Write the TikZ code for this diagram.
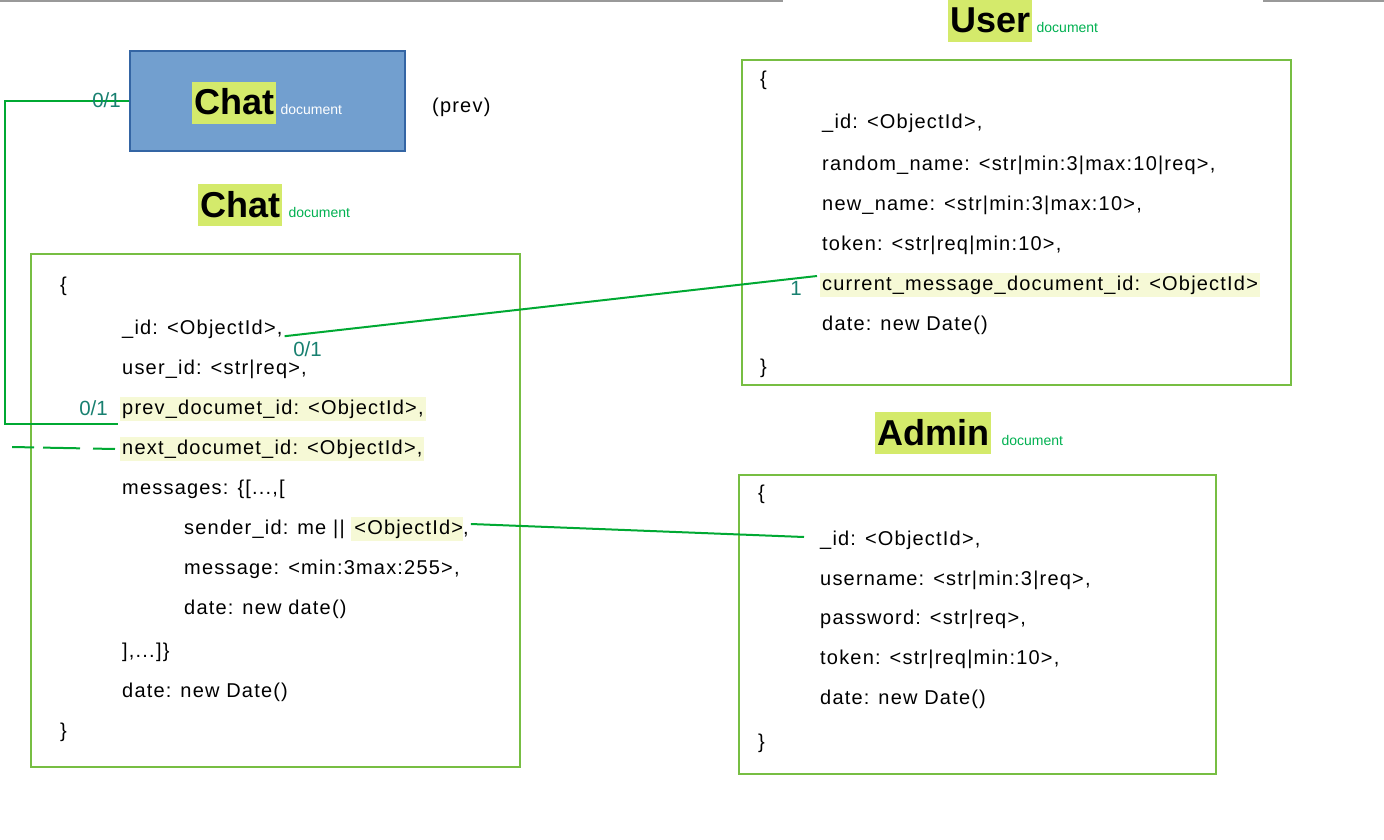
\documentclass[tikz,border=0pt]{standalone}
\usepackage{fontspec}
\setmainfont{Liberation Sans}
\newfontfamily\fieldfont[LetterSpace=6]{Liberation Sans}
\definecolor{boxgreen}{RGB}{119,190,67}
\definecolor{linkgreen}{RGB}{0,169,51}
\definecolor{cardteal}{RGB}{24,128,112}
\definecolor{titlelime}{RGB}{212,234,107}
\definecolor{fieldcream}{RGB}{246,249,214}
\definecolor{docgreen}{RGB}{0,176,80}
\definecolor{chatfill}{RGB}{114,159,207}
\definecolor{chatedge}{RGB}{52,101,164}
\newcommand{\fieldsize}{\fieldfont\fontsize{20}{24}\selectfont}
\tikzset{
  docbox/.style={draw=boxgreen, line width=2pt, inner sep=0pt},
  field/.style={anchor=base west, inner xsep=2pt, inner ysep=2pt,
    text height=15pt, text depth=5pt, font=\fieldsize},
  keyfield/.style={field, fill=fieldcream},
  brace/.style={anchor=west, inner sep=0pt, font=\fieldsize},
  title/.style={anchor=base west, fill=titlelime, inner xsep=2pt, inner ysep=0pt,
    text height=33pt, text depth=9pt, font=\bfseries\fontsize{36}{40}\selectfont},
  doctag/.style={anchor=base west, inner sep=0pt, text=docgreen,
    font=\fontsize{14}{16}\selectfont},
  card/.style={anchor=base east, inner sep=0pt, text=cardteal,
    font=\fontsize{20.5}{24}\selectfont},
  link/.style={draw=linkgreen, line width=2pt},
}
\begin{document}
\begin{tikzpicture}[x=1pt, y=-1pt]
  \useasboundingbox (0,0) rectangle (1384,840);
  \draw[gray!80, line width=2pt] (0,1) -- (783,1) (1263,1) -- (1384,1);

  % previous chat document
  \node[draw=chatedge, fill=chatfill, line width=1.5pt, inner sep=0pt,
    minimum width=275pt, minimum height=100pt] (chatblue) at (267.5,101) {};
  \node[title] (bluetitle) at (192,115) {Chat};
  \node[doctag, text=white] (bluetag) at ([xshift=4pt]bluetitle.base east) {document};
  \node[field] (prevnote) at (430,113) {(prev)};

  % chat document
  \node[title] (chattitle) at (198,217) {Chat};
  \node[doctag] (chattag) at ([xshift=6pt]chattitle.base east) {document};
  \node[docbox, minimum width=489pt, minimum height=513pt] (chatbox) at (275.5,510.5) {};
  \node[brace] (chatopen) at (60,286) {\{};
  \node[field] (chatid) at (120,334) {\_id: <ObjectId>,};
  \node[field] (chatuser) at (120,374) {user\_id: <str|req>,};
  \node[keyfield] (chatprev) at (120,414) {prev\_documet\_id: <ObjectId>,};
  \node[keyfield] (chatnext) at (120,454) {next\_documet\_id: <ObjectId>,};
  \node[field] (chatmsgs) at (120,494) {messages: \{[...,[};
  \node[field] (sender) at (182,534) {sender\_id: me || {\setlength{\fboxsep}{0pt}\colorbox{fieldcream}{\rule[-7pt]{0pt}{24pt}\hspace{3pt}<ObjectId>}},};
  \node[field] (message) at (182,574) {message: <min:3max:255>,};
  \node[field] (msgdate) at (182,614) {date: new date()};
  \node[field] (chatmsgend) at (120,657) {],...]\}};
  \node[field] (chatdate) at (120,697) {date: new Date()};
  \node[brace] (chatclose) at (60,732) {\}};

  % user document
  \node[title] (usertitle) at (948,33) {User};
  \node[doctag] (usertag) at ([xshift=4pt]usertitle.base east) {document};
  \node[docbox, minimum width=549pt, minimum height=325pt] (userbox) at (1016.5,222.5) {};
  \node[brace] (useropen) at (760,80) {\{};
  \node[field] (userid) at (820,129) {\_id: <ObjectId>,};
  \node[field] (userrand) at (820,170) {random\_name: <str|min:3|max:10|req>,};
  \node[field] (usernew) at (820,210) {new\_name: <str|min:3|max:10>,};
  \node[field] (usertoken) at (820,250) {token: <str|req|min:10>,};
  \node[keyfield] (usercur) at (820,290) {current\_message\_document\_id: <ObjectId>};
  \node[field] (userdate) at (820,330) {date: new Date()};
  \node[brace] (userclose) at (760,368) {\}};

  % admin document
  \node[title] (admintitle) at (875,445) {Admin};
  \node[doctag] (admintag) at ([xshift=10pt]admintitle.base east) {document};
  \node[docbox, minimum width=477pt, minimum height=299pt] (adminbox) at (977.5,624.5) {};
  \node[brace] (adminopen) at (758,494) {\{};
  \node[field] (adminid) at (818,545) {\_id: <ObjectId>,};
  \node[field] (adminname) at (818,585) {username: <str|min:3|req>,};
  \node[field] (adminpass) at (818,624) {password: <str|req>,};
  \node[field] (admintoken) at (818,664) {token: <str|req|min:10>,};
  \node[field] (admindate) at (818,704) {date: new Date()};
  \node[brace] (adminclose) at (758,743) {\}};

  % links
  \coordinate (prevend) at ([xshift=-2pt,yshift=-10pt]chatprev.base west);
  \coordinate (nextfree) at (12,447);
  \draw[link] (chatblue.west) -- ++(-124,0) |- (prevend);
  \draw[link, dash pattern=on 22pt off 13pt on 37pt off 9pt] ([xshift=-5pt]chatnext.west) -- (nextfree);
  \draw[link] ([yshift=5pt]chatid.south east) -- ([xshift=-3pt,yshift=9pt]usercur.west);
  \draw[link] ([yshift=5pt]sender.east) -- ([xshift=-14pt,yshift=3pt]adminid.west);
  \node[card] (cardblue) at (121,108) {0/1};
  \node[card] (cardprev) at (108,415) {0/1};
  \node[card] (cardid) at (322,356) {0/1};
  \node[card] (carduser) at (802,295) {1};
\end{tikzpicture}
\end{document}
